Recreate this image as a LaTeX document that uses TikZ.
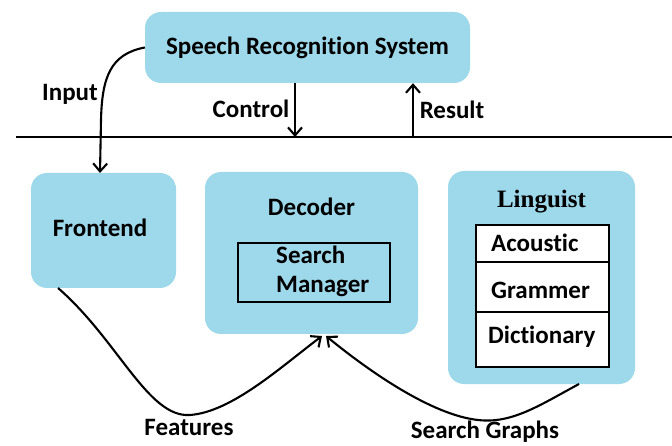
\documentclass[tikz,border=0pt]{standalone}
\usepackage{fontspec}
\setmainfont{Carlito}[Ligatures=NoCommon]
\newfontfamily\titleserif{Liberation Serif}
\usetikzlibrary{arrows.meta}
\definecolor{boxblue}{RGB}{157,217,234}
\tikzset{
  block/.style={fill=boxblue, draw=none, rounded corners=16pt, inner sep=0pt},
  framed/.style={draw=black, line width=2.6pt, fill=none, inner sep=0pt},
  lbl/.style={font=\fontsize{25}{29}\selectfont\bfseries, inner sep=0pt},
  conn/.style={line width=2.1pt, -{Straight Barb[length=8pt,width=14pt,line width=2.1pt]}},
  rule/.style={line width=2.1pt}
}
\begin{document}
\begin{tikzpicture}[x=1pt,y=-1pt]
\useasboundingbox (0,0) rectangle (672,446);

% main blocks
\node[block, minimum width=325pt, minimum height=71pt] (srs) at (307.5,47.5) {};
\node[lbl] (srstxt) at (307.5,48) {Speech Recognition System};
\node[block, minimum width=145pt, minimum height=115pt] (fe) at (103.5,230.5) {};
\node[lbl] (fetxt) at (100,228) {Frontend};
\node[block, minimum width=213pt, minimum height=162pt] (dec) at (311.5,253) {};
\node[lbl] (dectxt) at (311.5,207) {Decoder};
\node[block, minimum width=187pt, minimum height=213pt] (ling) at (541.5,277.5) {};
\node[inner sep=0pt, font=\titleserif\fontsize{25}{29}\selectfont\bfseries] (lingtxt) at (541.5,202) {Linguist};

% search manager inside the decoder
\node[framed, minimum width=152pt, minimum height=59pt] (sm) at (314,272.5) {};
\node[lbl, anchor=west, align=left] (smtxt) at (276,271.5) {Search\\Manager};

% knowledge base table inside the linguist
\node[framed, fill=white, minimum width=133pt, minimum height=37pt] (ac) at (542.5,243.5) {};
\node[framed, fill=white, minimum width=133pt, minimum height=50pt] (gr) at (542.5,287) {};
\node[framed, fill=white, minimum width=133pt, minimum height=55pt] (di) at (542.5,339.5) {};
\node[lbl, anchor=west] (actxt) at (491,243) {Acoustic};
\node[lbl, anchor=west] (grtxt) at (491,290) {Grammer};
\node[lbl, anchor=west] (ditxt) at (488,337) {Dictionary};

% separator line
\coordinate (lineL) at (16,137);
\coordinate (lineR) at (672,137);
\draw[rule] (lineL) -- (lineR);

% control and result
\coordinate (ctl) at (295,137);
\coordinate (res) at (413,137);
\draw[conn] (srs.south -| ctl) -- (ctl);
\draw[conn] (res) -- (srs.south -| res);
\node[lbl] (ctltxt) at (251,109) {Control};
\node[lbl] (restxt) at (452,110) {Result};

% input
\coordinate (inEnd) at (100,173);
\draw[conn] (srs.west) .. controls (110,54) and (102,78) .. (101,120) -- (inEnd);
\node[lbl] (intxt) at (70,94) {Input};

% features and search graphs
\coordinate (feOut) at (58,288);
\coordinate (lgOut) at (579,384);
\coordinate (decInA) at (322,336);
\coordinate (decInB) at (326,336);
\draw[conn] (feOut) .. controls (118,340) and (148,418) .. (190,415) .. controls (232,412) and (282,366) .. (decInA);
\draw[conn] (lgOut) .. controls (540,405) and (512,424) .. (478,420) .. controls (432,415) and (370,372) .. (decInB);
\node[lbl] (fttxt) at (189,427) {Features};
\node[lbl] (sgtxt) at (485,432) {Search Graphs};
\end{tikzpicture}
\end{document}
